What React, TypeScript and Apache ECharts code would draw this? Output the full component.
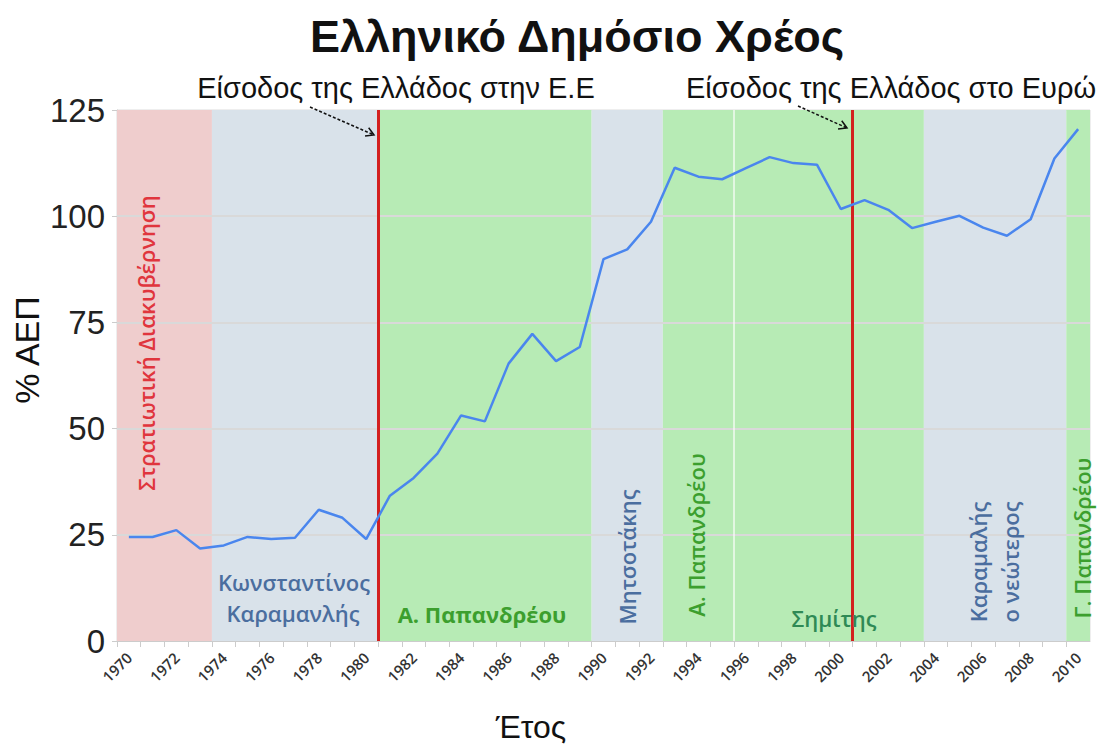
import React, { useEffect, useRef } from "react";
import * as echarts from "echarts";

// ---- data ----
const years: number[] = [
  1970, 1971, 1972, 1973, 1974, 1975, 1976, 1977, 1978, 1979,
  1980, 1981, 1982, 1983, 1984, 1985, 1986, 1987, 1988, 1989,
  1990, 1991, 1992, 1993, 1994, 1995, 1996, 1997, 1998, 1999,
  2000, 2001, 2002, 2003, 2004, 2005, 2006, 2007, 2008, 2009, 2010,
];
const debtPctGdp: number[] = [
  24.5, 24.5, 26.1, 21.8, 22.5, 24.5, 24.0, 24.3, 30.9, 29.0,
  24.0, 34.2, 38.4, 44.1, 53.1, 51.7, 65.3, 72.3, 65.9, 69.2,
  89.9, 92.2, 98.7, 111.4, 109.3, 108.7, 111.3, 113.9, 112.5, 112.1,
  101.7, 103.8, 101.5, 97.2, 98.7, 100.1, 97.3, 95.4, 99.3, 113.6, 120.5,
];
const periodStarts: number[] = [1970, 1974, 1981, 1990, 1993, 1996, 2004, 2010];
const periodEnds: number[] = [1974, 1981, 1990, 1993, 1996, 2004, 2010, 2011];
const periodKinds: string[] = ["junta", "nd", "pasok", "nd", "pasok", "pasok", "nd", "pasok"];
const eventYears: number[] = [1981, 2001];
const eventLabels: string[] = ["Είσοδος της Ελλάδος στην Ε.Ε", "Είσοδος της Ελλάδος στο Ευρώ"];
const yTicks: number[] = [0, 25, 50, 75, 100, 125];
const gridValues: number[] = [25, 50, 75, 100];

const kindColor: Record<string, string> = {
  junta: "#efcdcd",
  nd: "#d9e2ea",
  pasok: "#b7ebb5",
};

function arrow(x1: number, y1: number, x2: number, y2: number) {
  const dx = x2 - x1, dy = y2 - y1;
  const L = Math.hypot(dx, dy);
  const bx = -dx / L, by = -dy / L;
  const a = Math.PI / 6, s = 9;
  const p1 = [x2 + s * (bx * Math.cos(a) - by * Math.sin(a)), y2 + s * (bx * Math.sin(a) + by * Math.cos(a))];
  const p2 = [x2 + s * (bx * Math.cos(a) + by * Math.sin(a)), y2 + s * (-bx * Math.sin(a) + by * Math.cos(a))];
  return [
    { type: "line", shape: { x1, y1, x2, y2 }, style: { stroke: "#111", lineWidth: 1.5, lineDash: [3, 2] }, z: 100 },
    { type: "polyline", shape: { points: [p1, [x2, y2], p2] }, style: { stroke: "#111", lineWidth: 1.5, fill: null }, z: 100 },
  ];
}

const bandFont = "'Open Sans', 'DejaVu Sans', sans-serif";
const plainFont = "'Liberation Sans', Arial, sans-serif";

function vText(text: string, x: number, y: number, color: string, size = 22, weight = "600") {
  return {
    type: "text",
    x, y,
    rotation: Math.PI / 2,
    z: 50,
    style: { text, fill: color, font: `${weight} ${size}px ${bandFont}`, textAlign: "center", textVerticalAlign: "middle" },
  };
}
function hText(text: string, x: number, y: number, color: string, size = 22, weight = "600") {
  return {
    type: "text",
    x, y,
    z: 50,
    style: { text, fill: color, font: `${weight} ${size}px ${bandFont}`, textAlign: "center", textVerticalAlign: "middle" },
  };
}

export default function App() {
  const ref = useRef<HTMLDivElement>(null);
  useEffect(() => {
    if (!ref.current) return;
    const chart = echarts.init(ref.current, undefined, { renderer: "svg" });
    const lineData = years.map((y, i) => [y + 0.5, debtPctGdp[i]]);
    const bandData = periodStarts.map((s, i) => [
      { xAxis: s, itemStyle: { color: kindColor[periodKinds[i]] } },
      { xAxis: periodEnds[i] },
    ]);
    const blue = "#4b6e9f";
    const green = "#3c9f2e";
    chart.setOption({
      animation: false,
      backgroundColor: "#ffffff",
      grid: { left: 117, right: 17, top: 110, bottom: 106, show: true, borderColor: "#dddddd", borderWidth: 1, backgroundColor: "transparent" },
      xAxis: {
        type: "value",
        min: 1970,
        max: 2011,
        interval: 1,
        axisLine: { show: true, lineStyle: { color: "#cccccc", width: 1 } },
        axisTick: { show: true, length: 6, lineStyle: { color: "#cccccc" } },
        splitLine: { show: false },
        axisLabel: {
          rotate: 45,
          align: "center",
          verticalAlign: "middle",
          fontFamily: bandFont,
          fontWeight: 600,
          fontSize: 15,
          color: "#333",
          margin: 26,
          showMaxLabel: false,
          formatter: (v: number) => (v % 2 === 0 && v <= 2010 ? String(v) : ""),
        },
      },
      yAxis: {
        type: "value",
        min: 0,
        max: 125,
        interval: 25,
        axisLine: { show: true, lineStyle: { color: "#cccccc" } },
        axisTick: { show: true, length: 5, lineStyle: { color: "#cccccc" } },
        splitLine: { show: false },
        axisLabel: {
          fontFamily: plainFont,
          fontSize: 33,
          color: "#222",
          margin: 12,
          formatter: (v: number) => (yTicks.includes(v) ? String(v) : ""),
        },
      },
      series: [
        {
          name: "bands",
          type: "line",
          data: [],
          z: 1,
          silent: true,
          markArea: { silent: true, itemStyle: { opacity: 1 }, data: bandData },
        },
        {
          name: "grid",
          type: "line",
          data: [],
          z: 2,
          silent: true,
          markLine: {
            silent: true,
            symbol: ["none", "none"],
            label: { show: false },
            data: [
              ...gridValues.map((v) => ({ yAxis: v, lineStyle: { color: "#d9d9d9", width: 2, type: "solid" } })),
              { xAxis: 1996, lineStyle: { color: "#ffffff", width: 1.5, type: "solid", opacity: 0.8 } },
            ],
          },
        },
        {
          name: "Δημόσιο Χρέος",
          type: "line",
          data: lineData,
          z: 5,
          symbol: "none",
          lineStyle: { color: "#4a86ee", width: 2.5 },
        },
        {
          name: "events",
          type: "line",
          data: [],
          z: 6,
          silent: true,
          markLine: {
            silent: true,
            symbol: ["none", "none"],
            label: { show: false },
            data: eventYears.map((y) => ({ xAxis: y, lineStyle: { color: "#d3201f", width: 3, type: "solid" } })),
          },
        },
      ],
      graphic: [
        {
          type: "text", x: 577, y: 36, z: 60,
          style: { text: "Ελληνικό Δημόσιο Χρέος", fill: "#111", font: `bold 45px ${plainFont}`, textAlign: "center", textVerticalAlign: "middle" },
        },
        {
          type: "text", x: 396, y: 88, z: 60,
          style: { text: eventLabels[0], fill: "#111", font: `normal 29px ${plainFont}`, textAlign: "center", textVerticalAlign: "middle" },
        },
        {
          type: "text", x: 891, y: 88, z: 60,
          style: { text: eventLabels[1], fill: "#111", font: `normal 29px ${plainFont}`, textAlign: "center", textVerticalAlign: "middle" },
        },
        {
          type: "text", x: 27, y: 350, z: 60, rotation: Math.PI / 2,
          style: { text: "% ΑΕΠ", fill: "#111", font: `normal 34px ${plainFont}`, textAlign: "center", textVerticalAlign: "middle" },
        },
        {
          type: "text", x: 531, y: 727, z: 60,
          style: { text: "Έτος", fill: "#111", font: `normal 32px ${plainFont}`, textAlign: "center", textVerticalAlign: "middle" },
        },
        ...arrow(310, 107, 374, 135),
        ...arrow(798, 106, 847, 128),
        vText("Στρατιωτική Διακυβέρνηση", 146, 343, "#e0353d"),
        hText("Κωνσταντίνος", 294, 582, blue),
        hText("Καραμανλής", 293, 613, blue),
        hText("Α. Παπανδρέου", 482, 614, green, 22, "bold"),
        vText("Μητσοτάκης", 627, 557, blue),
        vText("Α. Παπανδρέου", 696, 535, green),
        hText("Σημίτης", 834, 618, "#2f8a55"),
        vText("Καραμαλής", 978, 562, blue),
        vText("ο νεώτερος", 1010, 562, blue),
        vText("Γ. Παπανδρέου", 1082, 538, green),
      ],
    });
    return () => chart.dispose();
  }, []);
  return <div ref={ref} style={{ position: "fixed", left: 0, top: 0, width: 1107, height: 747 }} />;
}
